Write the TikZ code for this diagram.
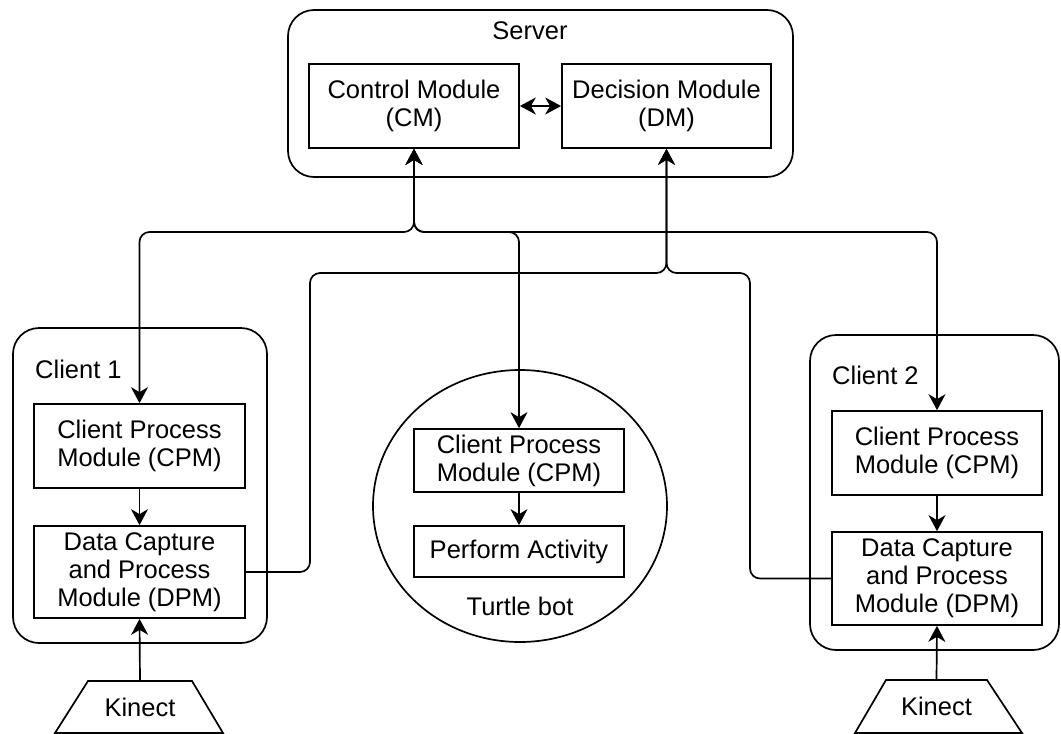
\documentclass[tikz,border=0pt]{standalone}
\usepackage{fontspec}
\setmainfont{Liberation Sans}
\usetikzlibrary{arrows.meta,shapes.geometric}

\tikzset{
  head/.tip={Stealth[length=16pt,width=17pt,inset=5pt]},
  every node/.style={font=\fontsize{25.5}{28}\selectfont},
  module/.style={draw, line width=1.7pt, align=center, inner sep=0pt},
  group/.style={draw, line width=1.7pt, rounded corners=26pt, inner sep=0pt},
  link/.style={line width=1.7pt, rounded corners=10pt},
  oneway/.style={link, -head},
  twoway/.style={link, head-head},
  outline/.style={line width=1.7pt, line join=miter}
}

\begin{document}
\begin{tikzpicture}[x=1pt,y=-1pt]
\useasboundingbox (0,0) rectangle (1061,734);

% ---- server ----
\node[group, minimum width=505pt, minimum height=167pt] (server) at (540.5,93.5) {};
\node (servlbl) at (530,31) {Server};
\node[module, minimum width=210pt, minimum height=84pt] (cm) at (414,106) {Control Module\\(CM)};
\node[module, minimum width=209pt, minimum height=84pt] (dm) at (666.5,106) {Decision Module\\(DM)};

% ---- client 1 ----
\node[group, minimum width=254pt, minimum height=315pt] (client1) at (140,485.5) {};
\node[anchor=west, inner sep=0pt] (c1lbl) at (35,369) {Client 1};
\node[module, minimum width=211pt, minimum height=84pt] (cpm1) at (139.5,446) {Client Process\\Module (CPM)};
\node[module, minimum width=211pt, minimum height=92pt] (dpm1) at (139.5,572) {Data Capture\\and Process\\Module (DPM)};
\draw[outline] (88,681) -- (192,681) -- (223,733) -- (55,733) -- cycle;
\node[minimum width=104pt, minimum height=52pt, inner sep=0pt] (kin1) at (140,707) {Kinect};

% ---- turtle bot ----
\node[draw, ellipse, line width=1.7pt, minimum width=294pt, minimum height=272pt, inner sep=0pt] (turtle) at (520,506) {};
\node (tlbl) at (520,606) {Turtle bot};
\node[module, minimum width=210pt, minimum height=63pt] (cpm3) at (519,460.5) {Client Process\\Module (CPM)};
\node[module, minimum width=210pt, minimum height=51pt] (act) at (519,551.5) {Perform Activity};

% ---- client 2 ----
\node[group, minimum width=249pt, minimum height=315pt] (client2) at (934.5,492.5) {};
\node[anchor=west, inner sep=0pt] (c2lbl) at (832,375) {Client 2};
\node[module, minimum width=210pt, minimum height=84pt] (cpm2) at (937,453) {Client Process\\Module (CPM)};
\node[module, minimum width=210pt, minimum height=93pt] (dpm2) at (937,578.5) {Data Capture\\and Process\\Module (DPM)};
\draw[outline] (886,680) -- (987,680) -- (1022,733) -- (855,733) -- cycle;
\node[minimum width=101pt, minimum height=53pt, inner sep=0pt] (kin2) at (936.5,706.5) {Kinect};

% ---- routing guides ----
\coordinate (bus1) at (0,232);
\coordinate (bus2) at (0,273);
\coordinate (col1) at (310,0);
\coordinate (col2) at (750,0);

% ---- connectors ----
\draw[twoway] (cm.east) -- (dm.west);
\draw[twoway] (cm.south) -- (cm.south |- bus1) -| (cpm1.north);
\draw[twoway] (cm.south) -- (cm.south |- bus1) -| (cpm3.north);
\draw[twoway] (cm.south) -- (cm.south |- bus1) -| (cpm2.north);
\draw[oneway] (dpm1.east) -| (col1 |- bus2) -| (dm.south);
\draw[oneway] (dpm2.west) -| (col2 |- bus2) -| (dm.south);

\draw[oneway] (cpm1) -- (dpm1);
\draw[oneway] (cpm3) -- (act);
\draw[oneway] (cpm2) -- (dpm2);
\draw[oneway] (kin1.north) -- (dpm1.south);
\draw[oneway] (kin2.north) -- (dpm2.south);
\end{tikzpicture}
\end{document}
